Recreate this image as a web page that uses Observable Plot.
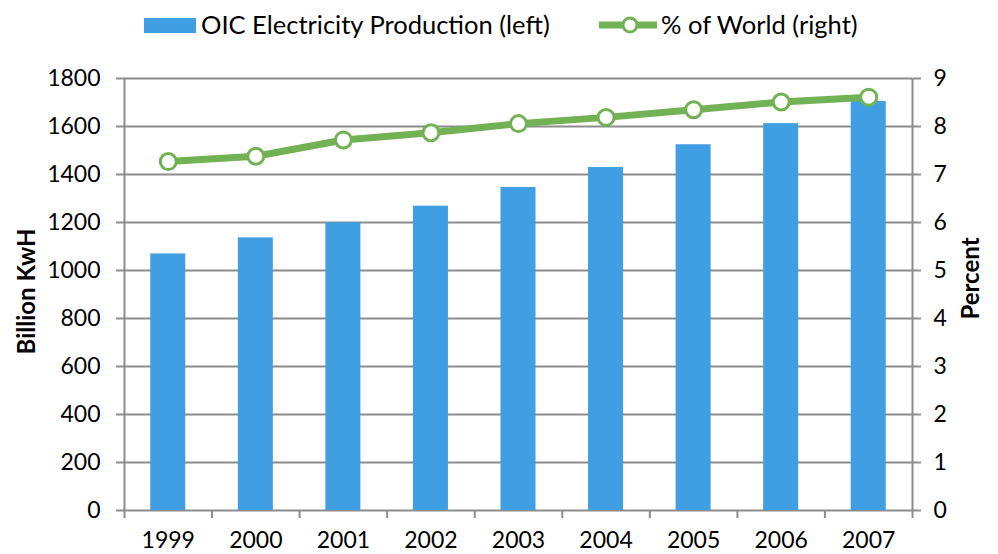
<!DOCTYPE html>
<html><head><meta charset="utf-8">
<script src="https://cdn.jsdelivr.net/npm/d3@7"></script>
<script src="https://cdn.jsdelivr.net/npm/@observablehq/plot@0.6"></script>
<style>
body{margin:0;background:#fff;font-family:Lato,sans-serif;color:#000;}
#legend{position:relative;width:998px;height:50px;}
#legend .sw{position:absolute;left:144px;top:18px;width:52px;height:15px;background:#409fe3;}
#legend .tx{position:absolute;top:12px;font-size:25.5px;line-height:25.5px;white-space:nowrap;}
#legend svg{position:absolute;left:599px;top:15px;}
</style></head><body>
<div id="legend">
  <div class="sw"></div>
  <span class="tx" style="left:201px">OIC Electricity Production (left)</span>
  <svg width="60" height="20"><line x1="0" y1="10" x2="58" y2="10" stroke="#72b254" stroke-width="7"/><circle cx="31" cy="10" r="7" fill="#fff" stroke="#72b254" stroke-width="3"/></svg>
  <span class="tx" style="left:661px">% of World (right)</span>
</div>
<div id="chart"></div>
<script>
const years = [1999, 2000, 2001, 2002, 2003, 2004, 2005, 2006, 2007];
const production = [1069, 1136, 1199, 1268, 1346, 1429, 1524, 1612, 1704];
const worldShare = [7.27, 7.38, 7.72, 7.87, 8.06, 8.19, 8.35, 8.51, 8.61];
const leftTicks = [0, 200, 400, 600, 800, 1000, 1200, 1400, 1600, 1800];
const rightTicks = [0, 1, 2, 3, 4, 5, 6, 7, 8, 9];

const ratio = leftTicks[leftTicks.length - 1] / rightTicks[rightTicks.length - 1];
const data = years.map((year, i) => ({year, production: production[i], share: worldShare[i]}));
const boundaries = [years[0] - 0.5, ...years.map(y => y + 0.5)];
const grey = "#8c8c8c";
const green = "#72b254";

const chart = Plot.plot({
  width: 998,
  height: 504,
  marginTop: 28,
  marginBottom: 44,
  marginLeft: 124,
  marginRight: 86,
  style: {fontFamily: "Lato, sans-serif", fontSize: "23px", color: "#000", background: "#fff"},
  x: {type: "linear", domain: [boundaries[0], boundaries[boundaries.length - 1]], axis: null},
  y: {domain: [0, 1800], axis: null},
  marks: [
    Plot.ruleY(leftTicks, {stroke: grey, strokeWidth: 2}),
    Plot.rectY(data, {x1: d => d.year - 0.2, x2: d => d.year + 0.2, y: "production", fill: "#409fe3"}),
    Plot.ruleX([boundaries[0], boundaries[boundaries.length - 1]], {y1: 0, y2: 1800, stroke: grey, strokeWidth: 2}),
    Plot.axisX(boundaries, {tickSize: 8, tickFormat: () => "", stroke: grey, strokeWidth: 2, label: null}),
    Plot.axisX(years, {tickSize: 0, tickPadding: 21, tickFormat: d => String(d), fontSize: 23, fill: "#000", label: null}),
    Plot.axisY(leftTicks, {anchor: "left", tickSize: 8, tickPadding: 16, stroke: grey, strokeWidth: 2, fontSize: 23, fill: "#000", tickFormat: d => String(d), label: null}),
    Plot.axisY(rightTicks.map(t => t * ratio), {anchor: "right", tickSize: 8, tickPadding: 13, stroke: grey, strokeWidth: 2, fontSize: 23, fill: "#000", tickFormat: d => String(d / ratio), label: null}),
    Plot.line(data, {x: "year", y: d => d.share * ratio, stroke: green, strokeWidth: 7}),
    Plot.dot(data, {x: "year", y: d => d.share * ratio, r: 8, fill: "#fff", stroke: green, strokeWidth: 3}),
    Plot.text(["Billion KwH"], {text: d => d, frameAnchor: "left", textAnchor: "middle", dx: -97, dy: -3, rotate: -90, fontWeight: "bold", fontSize: 24, fill: "#000"}),
    Plot.text(["Percent"], {text: d => d, frameAnchor: "right", textAnchor: "middle", dx: 59, dy: -16, rotate: -90, fontWeight: "bold", fontSize: 24, fill: "#000"})
  ]
});
document.getElementById("chart").appendChild(chart);
</script>
</body></html>
